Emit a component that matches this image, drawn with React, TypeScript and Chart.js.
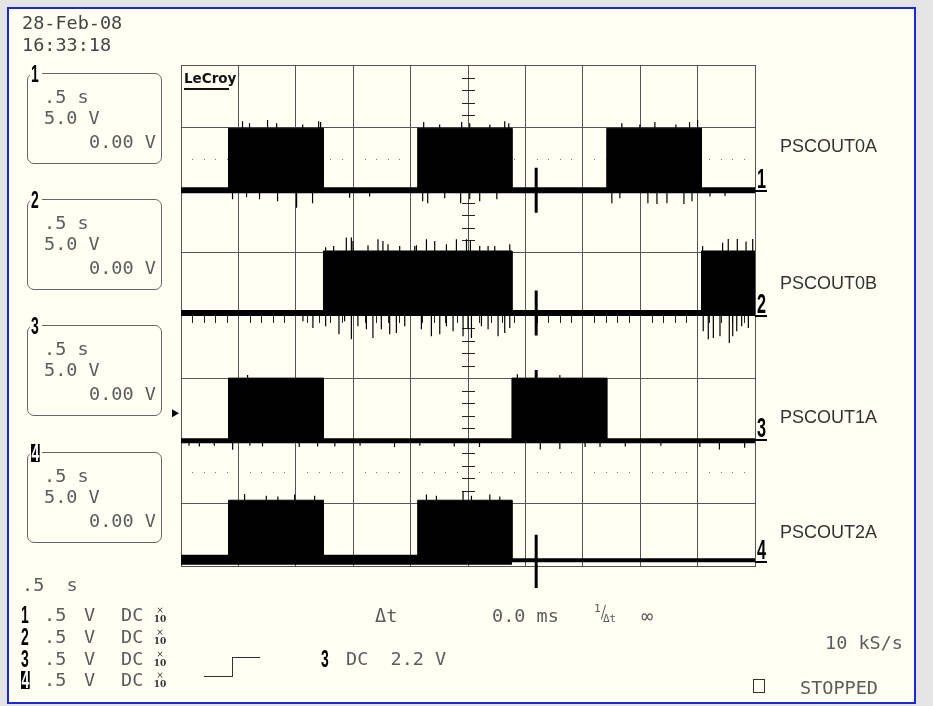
import React, { useEffect, useRef } from "react";
import { Chart, registerables } from "chart.js";

Chart.register(...registerables);

// ---------------- data ----------------
const TIME_MIN_S = 0;
const TIME_MAX_S = 5; // 10 div x 0.5 s/div
const TIME_PER_DIV_S = 0.5;
const VOLTS_PER_DIV = 5;
const GRID_DIVS_Y = 8;

const CHANNEL_NAMES = ["PSCOUT0A", "PSCOUT0B", "PSCOUT1A", "PSCOUT2A"];
const CHANNEL_NUMBERS = ["1", "2", "3", "4"];
const CHANNEL_POSITION_DIV = [6.0, 4.04, 2.0, 0.1];
const CHANNEL_HIGH_V = [4.95, 4.95, 5.0, 4.75];

// time intervals (s) where each output is high
const HIGH_0A = [[0.414, 1.241], [2.062, 2.883], [3.709, 4.534]];
const HIGH_0B = [[1.241, 2.883], [4.534, 5.0]];
const HIGH_1A = [[0.414, 1.241], [2.883, 3.709]];
const HIGH_2A = [[0.414, 1.241], [2.062, 2.883]];

// glitches: [time s, amplitude V]
const SPIKES_UP_0A = [[0.536, 0.55], [0.597, 0.4], [0.754, 0.65], [0.833, 0.4], [1.06, 0.3], [1.199, 0.55], [1.216, 0.5], [2.114, 0.5], [2.253, 0.3], [2.445, 0.5], [2.515, 0.4], [2.69, 0.3], [2.82, 0.55], [2.855, 0.4], [3.84, 0.4], [3.997, 0.3], [4.128, 0.5], [4.311, 0.3], [4.43, 0.5], [4.5, 0.65]];
const SPIKES_DOWN_0A = [[0.449, 0.72], [0.571, 0.56], [0.684, 0.72], [0.841, 0.88], [1.007, 1.4], [1.146, 1.04], [1.469, 0.6], [1.643, 0.5], [2.105, 0.88], [2.149, 1.04], [2.297, 0.64], [2.436, 1.04], [2.515, 0.72], [2.602, 0.88], [2.751, 0.72], [3.753, 1.04], [3.823, 0.64], [4.067, 1.04], [4.146, 1.1], [4.233, 1.04], [4.381, 1.1], [4.451, 0.88], [4.608, 0.5], [4.739, 0.45]];
const SPIKES_UP_0B = [[1.26, 0.3], [1.33, 0.4], [1.44, 1.07], [1.484, 1.07], [1.498, 0.8], [1.629, 0.45], [1.716, 0.93], [1.759, 0.8], [1.803, 0.53], [1.905, 0.4], [2.036, 0.4], [2.051, 0.45], [2.138, 0.93], [2.21, 0.8], [2.312, 0.53], [2.399, 0.93], [2.487, 0.93], [2.521, 0.8], [2.602, 0.4], [2.675, 0.4], [2.733, 0.4], [2.864, 0.53], [4.544, 0.4], [4.718, 0.65], [4.767, 0.95], [4.846, 0.95], [4.922, 0.75], [4.98, 0.95]];
const SPIKES_DOWN_0B = [[1.062, 0.65], [1.149, 1.2], [1.26, 1.05], [1.376, 1.7], [1.425, 0.65], [1.484, 2.1], [1.541, 1.05], [1.615, 1.3], [1.672, 2.0], [1.745, 1.3], [1.818, 1.7], [1.876, 1.6], [1.949, 1.05], [2.094, 1.3], [2.181, 1.85], [2.254, 1.7], [2.312, 1.05], [2.37, 1.45], [2.457, 1.85], [2.5, 1.3], [2.53, 2.0], [2.617, 1.05], [2.675, 1.3], [2.762, 1.85], [2.82, 1.6], [2.864, 1.2], [4.549, 1.45], [4.593, 2.1], [4.637, 2.0], [4.695, 1.85], [4.776, 2.4], [4.806, 1.85], [4.841, 1.45], [4.884, 1.05], [4.942, 1.2]];
const SPIKES_UP_1A = [[0.58, 0.25], [2.93, 0.3], [3.3, 0.25]];
const SPIKES_DOWN_1A = [[0.07, 0.4], [0.16, 0.45], [0.29, 0.4], [0.45, 0.72], [0.6, 0.4], [0.71, 0.45], [1.03, 0.5], [1.19, 0.45], [1.34, 0.45], [1.56, 0.4], [1.86, 0.5], [2.08, 0.4], [2.38, 0.45], [2.6, 0.5], [3.13, 0.7], [3.3, 0.65], [3.52, 0.5], [3.65, 0.5], [3.87, 0.45], [4.18, 0.4], [4.52, 0.5], [4.69, 0.7], [4.91, 0.55]];
const SPIKES_UP_2A = [[0.554, 0.5], [0.743, 0.35], [0.844, 0.3], [0.99, 0.45], [1.164, 0.35], [2.138, 0.45], [2.225, 0.35], [2.457, 0.7], [2.53, 0.35], [2.69, 0.45], [2.777, 0.3]];
const SPIKES_DOWN_2A: number[][] = [];

const CURSOR_T_S = 3.094;
const TRIGGER_LEVEL_V = 2.2;

// text read-outs
const DATE_TEXT = "28-Feb-08";
const TIME_TEXT = "16:33:18";
const BOX_TIMEBASE = [".5 s", ".5 s", ".5 s", ".5 s"];
const BOX_VDIV = ["5.0 V", "5.0 V", "5.0 V", "5.0 V"];
const BOX_OFFSET = ["0.00 V", "0.00 V", "0.00 V", "0.00 V"];
const TIMEBASE_TEXT = ".5  s";
const CH_SCALE = [".5", ".5", ".5", ".5"];
const CH_UNIT = ["V", "V", "V", "V"];
const CH_COUPLING = ["DC", "DC", "DC", "DC"];
const DELTA_T_TEXT = "0.0 ms";
const TRIGGER_TEXT = "DC  2.2 V";
const SAMPLE_RATE_TEXT = "10 kS/s";
const STATUS_TEXT = "STOPPED";

// ---------------- layout / style ----------------
const W = 933;
const H = 706;
const GRID_LEFT = 181;
const GRID_TOP = 65;
const GRID_RIGHT = 755;
const GRID_BOTTOM = 566;
const LABEL_Y = [146, 283, 417, 532];
const RIGHT_NUM_Y = [179, 304, 428, 550];
const BAND_WIDTH = [6, 6, 5, 10];

const MONO = '"DejaVu Sans Mono", monospace';
const SANS = '"Liberation Sans", Arial, sans-serif';
const TXT = "#5c5c5c";

const HIGHS = [HIGH_0A, HIGH_0B, HIGH_1A, HIGH_2A];
const UPS = [SPIKES_UP_0A, SPIKES_UP_0B, SPIKES_UP_1A, SPIKES_UP_2A];
const DOWNS = [SPIKES_DOWN_0A, SPIKES_DOWN_0B, SPIKES_DOWN_1A, SPIKES_DOWN_2A];

const toDiv = (v: number) => v / VOLTS_PER_DIV;

function pulsePoints(intervals: number[][], base: number, high: number) {
  const pts: any[] = [{ x: TIME_MIN_S, y: base }];
  for (const [a, b] of intervals) {
    pts.push({ x: a, y: base }, { x: a, y: base + high }, { x: b, y: base + high }, { x: b, y: base });
  }
  pts.push({ x: TIME_MAX_S, y: base });
  return pts;
}

function spikePoints(list: number[][], base: number, dir: number) {
  const pts: any[] = [];
  for (const [t, v] of list) {
    pts.push({ x: t, y: base }, { x: t, y: base + dir * toDiv(v) }, { x: t, y: null });
  }
  return pts;
}

function isHigh(ch: number, t: number) {
  return HIGHS[ch].some(([a, b]) => t > a && t < b);
}

function buildDatasets() {
  const ds: any[] = [];
  const common = { pointRadius: 0, tension: 0, spanGaps: false, borderColor: "#000", backgroundColor: "#000" };
  for (let ch = 0; ch < 4; ch++) {
    const base = CHANNEL_POSITION_DIV[ch];
    const high = toDiv(CHANNEL_HIGH_V[ch]);
    ds.push({ ...common, label: CHANNEL_NAMES[ch], data: pulsePoints(HIGHS[ch], base, high), borderWidth: 1, fill: { value: base } });
    if (ch === 3) {
      const end = HIGH_2A[HIGH_2A.length - 1][1];
      ds.push({ ...common, label: "base4a", data: [{ x: TIME_MIN_S, y: base }, { x: end, y: base }], borderWidth: BAND_WIDTH[ch], fill: false });
      ds.push({ ...common, label: "base4b", data: [{ x: end, y: base - 0.01 }, { x: TIME_MAX_S, y: base - 0.01 }], borderWidth: 4, fill: false });
    } else {
      ds.push({ ...common, label: "base" + ch, data: [{ x: TIME_MIN_S, y: base }, { x: TIME_MAX_S, y: base }], borderWidth: BAND_WIDTH[ch], fill: false });
    }
    ds.push({ ...common, label: "up" + ch, data: spikePoints(UPS[ch], base + high, 1), borderWidth: 1.2, fill: false });
    ds.push({ ...common, label: "down" + ch, data: spikePoints(DOWNS[ch], base, -1), borderWidth: 1.2, fill: false });
  }
  // cursor marks
  const cur: any[] = [];
  for (let ch = 0; ch < 4; ch++) {
    const base = CHANNEL_POSITION_DIV[ch];
    if (isHigh(ch, CURSOR_T_S)) {
      const top = base + toDiv(CHANNEL_HIGH_V[ch]);
      cur.push({ x: CURSOR_T_S, y: top }, { x: CURSOR_T_S, y: top + 0.13 }, { x: CURSOR_T_S, y: null });
    } else if (ch === 3) {
      cur.push({ x: CURSOR_T_S, y: base + 0.4 }, { x: CURSOR_T_S, y: base - 0.45 }, { x: CURSOR_T_S, y: null });
    } else {
      cur.push({ x: CURSOR_T_S, y: base + 0.36 }, { x: CURSOR_T_S, y: base - 0.36 }, { x: CURSOR_T_S, y: null });
    }
  }
  ds.push({ ...common, label: "cursor", data: cur, borderWidth: 3, fill: false, clip: false });
  return ds;
}

const scopeDecor = {
  id: "scopeDecor",
  beforeDatasetsDraw(chart: any) {
    const { ctx, scales } = chart;
    const x = scales.x;
    const y = scales.y;
    ctx.save();
    // dotted rows
    ctx.fillStyle = "#777";
    for (const row of [6.5, 1.5]) {
      const py = Math.round(y.getPixelForValue(row));
      for (let k = 1; k < 50; k++) {
        if (k % 5 === 0) continue;
        const px = Math.round(x.getPixelForValue(k * TIME_PER_DIV_S / 5));
        ctx.fillRect(px, py, 1, 1);
      }
    }
    // centre axes minor ticks
    ctx.fillStyle = "#222";
    const cx = Math.round(x.getPixelForValue((TIME_MIN_S + TIME_MAX_S) / 2));
    for (let k = 1; k < GRID_DIVS_Y * 5; k++) {
      if (k % 5 === 0) continue;
      const py = Math.round(y.getPixelForValue(k / 5));
      ctx.fillRect(cx - 6, py, 13, 1);
    }
    const cy = Math.round(y.getPixelForValue(GRID_DIVS_Y / 2));
    for (let k = 1; k < 50; k++) {
      if (k % 5 === 0) continue;
      const px = Math.round(x.getPixelForValue(k * TIME_PER_DIV_S / 5));
      ctx.fillRect(px, cy - 6, 1, 13);
    }
    ctx.restore();
  },
  afterDraw(chart: any) {
    const { ctx, scales, chartArea } = chart;
    const y = scales.y;
    const ty = y.getPixelForValue(CHANNEL_POSITION_DIV[2] + toDiv(TRIGGER_LEVEL_V));
    ctx.save();
    ctx.fillStyle = "#000";
    ctx.beginPath();
    ctx.moveTo(chartArea.left - 9, ty - 4);
    ctx.lineTo(chartArea.left - 2, ty);
    ctx.lineTo(chartArea.left - 9, ty + 4);
    ctx.closePath();
    ctx.fill();
    ctx.restore();
  },
};

function ScopeChart() {
  const ref = useRef<HTMLCanvasElement | null>(null);
  useEffect(() => {
    if (!ref.current) return;
    const grid = { color: "#555", lineWidth: 1, drawTicks: false };
    const chart = new Chart(ref.current, {
      type: "line",
      data: { datasets: buildDatasets() },
      options: {
        animation: false,
        responsive: false,
        layout: { padding: { left: GRID_LEFT, top: GRID_TOP, right: W - GRID_RIGHT, bottom: H - GRID_BOTTOM } },
        plugins: { legend: { display: false }, tooltip: { enabled: false } },
        elements: { point: { radius: 0 }, line: { tension: 0 } },
        scales: {
          x: { type: "linear", min: TIME_MIN_S, max: TIME_MAX_S, ticks: { display: false, stepSize: TIME_PER_DIV_S }, grid, border: { display: true, color: "#555" } },
          y: { type: "linear", min: 0, max: GRID_DIVS_Y, ticks: { display: false, stepSize: 1 }, grid, border: { display: true, color: "#555" } },
        },
      } as any,
      plugins: [scopeDecor],
    });
    return () => chart.destroy();
  }, []);
  return <canvas ref={ref} width={W} height={H} style={{ position: "absolute", left: 0, top: 0 }} />;
}

function T({ x, y, children, style }: any) {
  return (
    <div style={{ position: "absolute", left: x, top: y - 10, height: 20, lineHeight: "20px", whiteSpace: "pre", fontFamily: MONO, fontSize: 18.5, color: TXT, ...style }}>
      {children}
    </div>
  );
}

function Digit({ x, y, n, size = 24, inverse = false }: any) {
  return (
    <div style={{ position: "absolute", left: x, top: y - size * 0.6, height: size * 1.2, lineHeight: `${size * 1.2}px`, fontFamily: SANS, fontWeight: "bold", fontSize: size, color: "#000" }}>
      <span style={{ display: "inline-block", transform: "scaleX(0.58)", transformOrigin: "left center", background: inverse ? "#000" : "transparent", color: inverse ? "#fff" : "#000", lineHeight: `${size * 0.78}px`, padding: inverse ? "0 1px" : 0 }}>{n}</span>
    </div>
  );
}

function Probe({ x, y }: any) {
  return (
    <div style={{ position: "absolute", left: x, top: y - 9, width: 16, fontFamily: '"DejaVu Serif", serif', fontSize: 9, lineHeight: "9px", textAlign: "center", color: "#333" }}>
      <div>×</div>
      <div style={{ fontWeight: "bold" }}>10</div>
    </div>
  );
}

export default function App() {
  const boxTops = [73, 199, 325, 452];
  const rowY = [615, 637, 659, 680];
  return (
    <div style={{ position: "absolute", left: 0, top: 0, width: W, height: H, background: "#e4e4e4", overflow: "hidden" }}>
      <div style={{ position: "absolute", left: 7, top: 7, width: 909, height: 697, boxSizing: "border-box", border: "2px solid #1a28d8", background: "#fffff4" }} />
      <ScopeChart />
      {/* header */}
      <T x={22} y={23} style={{ color: "#444" }}>{DATE_TEXT}</T>
      <T x={22} y={45} style={{ color: "#444" }}>{TIME_TEXT}</T>
      {/* LeCroy logo */}
      <div style={{ position: "absolute", left: 184, top: 70, fontFamily: '"DejaVu Sans", sans-serif', fontWeight: "bold", fontSize: 13.5, lineHeight: "16px", color: "#111" }}>LeCroy</div>
      <div style={{ position: "absolute", left: 184, top: 88, width: 45, height: 2, background: "#111" }} />
      {/* channel boxes */}
      {boxTops.map((t, i) => (
        <React.Fragment key={i}>
          <div style={{ position: "absolute", left: 27, top: t, width: 135, height: 91, boxSizing: "border-box", border: "1.5px solid #666", borderRadius: 7 }} />
          <div style={{ position: "absolute", left: 30, top: t - 3, width: 12, height: 8, background: "#fffff4" }} />
          <Digit x={31} y={t + 1} n={CHANNEL_NUMBERS[i]} inverse={i === 3} />
          <T x={44} y={t + 24}>{BOX_TIMEBASE[i]}</T>
          <T x={44} y={t + 45}>{BOX_VDIV[i]}</T>
          <T x={89} y={t + 69}>{BOX_OFFSET[i]}</T>
        </React.Fragment>
      ))}
      {/* right side trace numbers & names */}
      {CHANNEL_NAMES.map((name, i) => (
        <React.Fragment key={name}>
          <Digit x={757} y={RIGHT_NUM_Y[i]} n={CHANNEL_NUMBERS[i]} size={28} />
          <div style={{ position: "absolute", left: 755, top: RIGHT_NUM_Y[i] + 11, width: 12, height: 2, background: "#000" }} />
          <div style={{ position: "absolute", left: 780, top: LABEL_Y[i] - 11, lineHeight: "22px", fontFamily: SANS, fontSize: 18, color: "#333" }}>{name}</div>
        </React.Fragment>
      ))}
      {/* bottom readouts */}
      <T x={22} y={585}>{TIMEBASE_TEXT}</T>
      {rowY.map((ry, i) => (
        <React.Fragment key={i}>
          <Digit x={21} y={ry} n={CHANNEL_NUMBERS[i]} inverse={i === 3} />
          <T x={44} y={ry}>{CH_SCALE[i]}</T>
          <T x={84} y={ry}>{CH_UNIT[i]}</T>
          <T x={121} y={ry}>{CH_COUPLING[i]}</T>
          <Probe x={152} y={ry} />
        </React.Fragment>
      ))}
      <T x={375} y={616}>Δt</T>
      <T x={492} y={616}>{DELTA_T_TEXT}</T>
      <div style={{ position: "absolute", left: 594, top: 603, fontFamily: MONO, fontSize: 11, color: TXT, lineHeight: "12px" }}>1</div>
      <div style={{ position: "absolute", left: 598, top: 602, fontFamily: MONO, fontSize: 18, color: TXT, lineHeight: "20px", transform: "scaleX(0.6)" }}>/</div>
      <div style={{ position: "absolute", left: 603, top: 613, fontFamily: MONO, fontSize: 11, color: TXT, lineHeight: "12px" }}>Δt</div>
      <T x={641} y={616} style={{ fontSize: 20 }}>∞</T>
      <T x={825} y={643}>{SAMPLE_RATE_TEXT}</T>
      {/* trigger */}
      <div style={{ position: "absolute", left: 204, top: 676, width: 29, height: 1, background: "#333" }} />
      <div style={{ position: "absolute", left: 232, top: 657, width: 1, height: 20, background: "#333" }} />
      <div style={{ position: "absolute", left: 232, top: 657, width: 28, height: 1, background: "#333" }} />
      <Digit x={321} y={659} n="3" />
      <T x={346} y={659}>{TRIGGER_TEXT}</T>
      <div style={{ position: "absolute", left: 753, top: 679, width: 12, height: 14, boxSizing: "border-box", border: "1px solid #333" }} />
      <T x={800} y={688}>{STATUS_TEXT}</T>
    </div>
  );
}
